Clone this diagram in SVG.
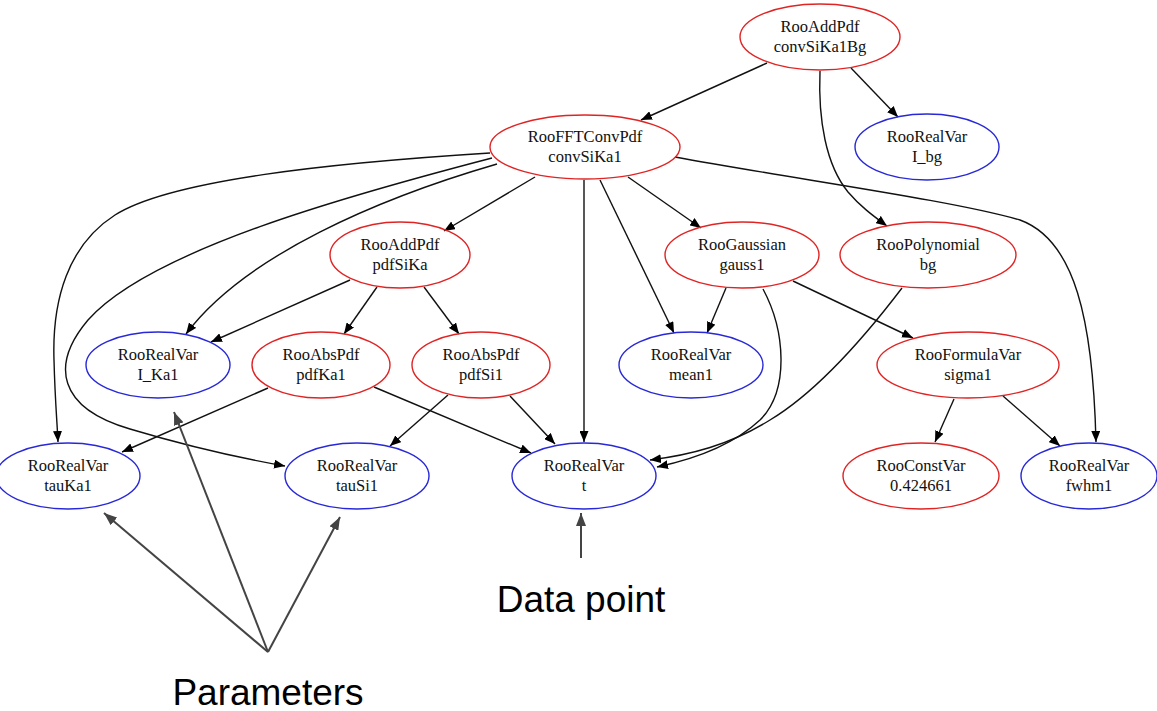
<svg xmlns="http://www.w3.org/2000/svg" width="1157" height="711" viewBox="0 0 1157 711">
<style>
.n ellipse{fill:none;stroke-width:1.4}
.r ellipse{stroke:#e02424}
.b ellipse{stroke:#2828d8}
.n text{font-family:"Liberation Serif","Times New Roman",serif;font-size:16.5px;text-anchor:middle;fill:#111}
.e path{fill:none;stroke:#111;stroke-width:1.4}
.a path{fill:none;stroke:#444;stroke-width:2}
.lbl{font-family:"Liberation Sans",Arial,sans-serif;font-size:37px;text-anchor:middle;fill:#000}
</style>
<defs>
<marker id="ah" markerUnits="userSpaceOnUse" markerWidth="12" markerHeight="9" refX="11" refY="4.5" orient="auto"><path d="M0,0 L11,4.5 L0,9 z" fill="#000"/></marker>
<marker id="gh" markerUnits="userSpaceOnUse" markerWidth="14" markerHeight="10" refX="13" refY="5" orient="auto"><path d="M0,0 L13,5 L0,10 z" fill="#444"/></marker>
</defs>
<rect width="1157" height="711" fill="#fff"/>
<g id="edges" class="e">
<path marker-end="url(#ah)" d="M767,63 L641,120"/>
<path marker-end="url(#ah)" d="M851,68 L898,117"/>
<path marker-end="url(#ah)" d="M820,71 C818,120 826,165 848,192 C860,206 872,215 887,226"/>
<path marker-end="url(#ah)" d="M535,177 L444,231"/>
<path marker-end="url(#ah)" d="M490,153 C330,163 170,180 115,215 C68,245 52,300 54,360 C55,400 57,420 58,442"/>
<path marker-end="url(#ah)" d="M492,158 C350,195 150,250 88,320 C50,365 58,408 130,429 C190,447 240,458 285,466"/>
<path marker-end="url(#ah)" d="M497,164 C380,198 245,255 186,334"/>
<path marker-end="url(#ah)" d="M350,280 L211,342"/>
<path marker-end="url(#ah)" d="M377,287 L344,334"/>
<path marker-end="url(#ah)" d="M424,287 L459,334"/>
<path marker-end="url(#ah)" d="M628,177 L701,228"/>
<path marker-end="url(#ah)" d="M600,180 L674,333"/>
<path marker-end="url(#ah)" d="M584,180 L584,442"/>
<path marker-end="url(#ah)" d="M675,157 C800,180 950,200 1020,220 C1075,240 1093,320 1096,442"/>
<path marker-end="url(#ah)" d="M726,288 L707,333"/>
<path marker-end="url(#ah)" d="M763,289 C785,330 790,390 760,420 C730,448 690,460 657,467"/>
<path marker-end="url(#ah)" d="M902,288 C870,330 820,390 770,420 C730,445 690,455 650,460"/>
<path marker-end="url(#ah)" d="M793,281 L913,338"/>
<path marker-end="url(#ah)" d="M954,399 L935,442"/>
<path marker-end="url(#ah)" d="M1003,396 L1060,446"/>
<path marker-end="url(#ah)" d="M268,388 L122,452"/>
<path marker-end="url(#ah)" d="M374,387 L531,453"/>
<path marker-end="url(#ah)" d="M448,395 L390,446"/>
<path marker-end="url(#ah)" d="M510,396 L555,444"/>
</g>
<g id="convSiKa1Bg" class="n r"><ellipse cx="820" cy="37" rx="80" ry="33"/><text x="820" y="32">RooAddPdf</text><text x="820" y="52">convSiKa1Bg</text></g>
<g id="convSiKa1" class="n r"><ellipse cx="585" cy="147" rx="95" ry="32"/><text x="585" y="142">RooFFTConvPdf</text><text x="585" y="162">convSiKa1</text></g>
<g id="I_bg" class="n b"><ellipse cx="927" cy="147" rx="72" ry="33"/><text x="927" y="142">RooRealVar</text><text x="927" y="162">I_bg</text></g>
<g id="pdfSiKa" class="n r"><ellipse cx="400" cy="255" rx="70" ry="33"/><text x="400" y="250">RooAddPdf</text><text x="400" y="270">pdfSiKa</text></g>
<g id="gauss1" class="n r"><ellipse cx="742" cy="255" rx="77" ry="33"/><text x="742" y="250">RooGaussian</text><text x="742" y="270">gauss1</text></g>
<g id="bg" class="n r"><ellipse cx="928" cy="255" rx="88" ry="33"/><text x="928" y="250">RooPolynomial</text><text x="928" y="270">bg</text></g>
<g id="I_Ka1" class="n b"><ellipse cx="158" cy="365" rx="72" ry="33"/><text x="158" y="360">RooRealVar</text><text x="158" y="380">I_Ka1</text></g>
<g id="pdfKa1" class="n r"><ellipse cx="321" cy="365" rx="69" ry="33"/><text x="321" y="360">RooAbsPdf</text><text x="321" y="380">pdfKa1</text></g>
<g id="pdfSi1" class="n r"><ellipse cx="481" cy="365" rx="69" ry="33"/><text x="481" y="360">RooAbsPdf</text><text x="481" y="380">pdfSi1</text></g>
<g id="mean1" class="n b"><ellipse cx="691" cy="365" rx="72" ry="33"/><text x="691" y="360">RooRealVar</text><text x="691" y="380">mean1</text></g>
<g id="sigma1" class="n r"><ellipse cx="968" cy="365" rx="91" ry="33"/><text x="968" y="360">RooFormulaVar</text><text x="968" y="380">sigma1</text></g>
<g id="tauKa1" class="n b"><ellipse cx="68" cy="476" rx="72" ry="33"/><text x="68" y="471">RooRealVar</text><text x="68" y="491">tauKa1</text></g>
<g id="tauSi1" class="n b"><ellipse cx="357" cy="476" rx="72" ry="33"/><text x="357" y="471">RooRealVar</text><text x="357" y="491">tauSi1</text></g>
<g id="t" class="n b"><ellipse cx="584" cy="476" rx="72" ry="33"/><text x="584" y="471">RooRealVar</text><text x="584" y="491">t</text></g>
<g id="const" class="n r"><ellipse cx="921" cy="476" rx="78" ry="33"/><text x="921" y="471">RooConstVar</text><text x="921" y="491">0.424661</text></g>
<g id="fwhm1" class="n b"><ellipse cx="1089" cy="476" rx="68" ry="33"/><text x="1089" y="471">RooRealVar</text><text x="1089" y="491">fwhm1</text></g>
<g id="annotations" class="a">
<path marker-end="url(#gh)" d="M268,652 L104,513"/>
<path marker-end="url(#gh)" d="M268,652 L174,412"/>
<path marker-end="url(#gh)" d="M268,652 L340,517"/>
<path marker-end="url(#gh)" d="M581,558 L581,513"/>
</g>
<text class="lbl" x="581" y="612">Data point</text>
<text class="lbl" x="268" y="705">Parameters</text>
</svg>
